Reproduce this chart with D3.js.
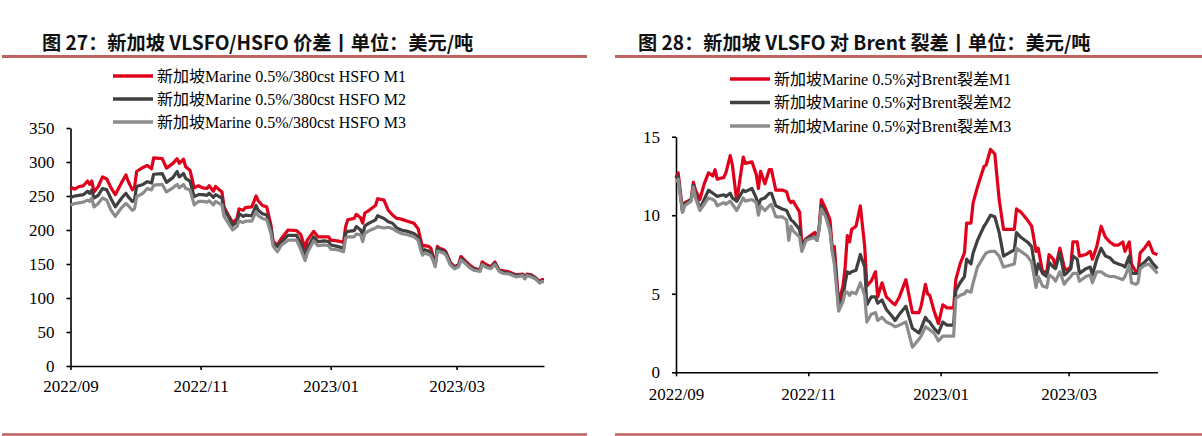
<!DOCTYPE html>
<html>
<head>
<meta charset="utf-8">
<script src="https://cdn.jsdelivr.net/npm/d3@7"></script>
<style>
  body { margin: 0; background: #fff; }
  svg { display: block; }
</style>
</head>
<body>
<div id="chart"></div>
<script>
// left panel: VLSFO/HSFO spread, USD/t
const spreadTitle = "图 27：新加坡 VLSFO/HSFO 价差丨单位：美元/吨";
const spreadNames = ["新加坡Marine 0.5%/380cst HSFO M1", "新加坡Marine 0.5%/380cst HSFO M2", "新加坡Marine 0.5%/380cst HSFO M3"];
const spreadTicks = [0, 50, 100, 150, 200, 250, 300, 350];
const spreadDates = [
  "2022/09/01","2022/09/02","2022/09/03","2022/09/05","2022/09/07","2022/09/09","2022/09/10","2022/09/11","2022/09/12","2022/09/14",
  "2022/09/16","2022/09/18","2022/09/20","2022/09/22","2022/09/25","2022/09/27","2022/09/28","2022/09/30","2022/10/01","2022/10/02",
  "2022/10/05","2022/10/07","2022/10/09","2022/10/10","2022/10/14","2022/10/16","2022/10/19","2022/10/21","2022/10/22","2022/10/24",
  "2022/10/25","2022/10/27","2022/10/29","2022/10/31","2022/11/02","2022/11/04","2022/11/05","2022/11/07","2022/11/08","2022/11/11",
  "2022/11/12","2022/11/14","2022/11/16","2022/11/18","2022/11/19","2022/11/21","2022/11/22","2022/11/25","2022/11/27","2022/11/28",
  "2022/11/30","2022/12/02","2022/12/04","2022/12/05","2022/12/07","2022/12/09","2022/12/12","2022/12/16","2022/12/18","2022/12/20",
  "2022/12/21","2022/12/24","2022/12/26","2022/12/29","2022/12/31","2023/01/01","2023/01/04","2023/01/07","2023/01/08","2023/01/09",
  "2023/01/12","2023/01/13","2023/01/15","2023/01/16","2023/01/17","2023/01/19","2023/01/22","2023/01/23","2023/01/26","2023/01/28",
  "2023/01/30","2023/02/01","2023/02/03","2023/02/06","2023/02/09","2023/02/11","2023/02/12","2023/02/13","2023/02/14","2023/02/16",
  "2023/02/17","2023/02/18","2023/02/19","2023/02/20","2023/02/21","2023/02/23","2023/02/24","2023/02/26","2023/02/28","2023/03/02",
  "2023/03/03","2023/03/05","2023/03/07","2023/03/09","2023/03/12","2023/03/13","2023/03/15","2023/03/17","2023/03/19","2023/03/21",
  "2023/03/23","2023/03/26","2023/03/29","2023/04/01","2023/04/02","2023/04/03","2023/04/05","2023/04/07","2023/04/09","2023/04/10","2023/04/11"
];
const spreadM1 = [
  259, 262, 260, 264, 265, 272, 267, 272, 256, 264,
  278, 275, 262, 252, 270, 281, 272, 259, 262, 286,
  292, 295, 290, 306, 305, 291, 298, 305, 298, 304,
  293, 288, 262, 265, 262, 261, 265, 257, 264, 256,
  234, 222, 211, 216, 231, 229, 233, 234, 250, 243,
  236, 234, 207, 183, 178, 188, 200, 199, 193, 173,
  185, 198, 190, 190, 190, 185, 184, 182, 205, 215,
  217, 223, 218, 210, 225, 229, 236, 246, 244, 229,
  222, 217, 216, 213, 210, 202, 188, 176, 177, 176,
  173, 161, 149, 176, 173, 171, 168, 153, 146, 149,
  161, 155, 149, 144, 141, 153, 149, 146, 153, 141,
  140, 138, 134, 135, 130, 135, 134, 130, 124, 127, 127
];
const spreadM2 = [
  248, 249, 250, 251, 252, 257, 254, 259, 247, 251,
  261, 259, 246, 234, 247, 254, 249, 242, 244, 264,
  267, 271, 269, 282, 283, 270, 277, 286, 278, 283,
  276, 272, 249, 252, 252, 251, 254, 248, 252, 247,
  229, 220, 207, 211, 224, 220, 222, 221, 236, 229,
  224, 222, 202, 180, 176, 183, 192, 192, 181, 161,
  173, 190, 183, 184, 183, 178, 176, 173, 195, 198,
  199, 205, 200, 193, 206, 210, 215, 221, 217, 212,
  210, 203, 200, 198, 195, 190, 181, 168, 171, 169,
  166, 158, 148, 173, 171, 169, 166, 151, 145, 148,
  158, 153, 146, 143, 140, 150, 146, 145, 151, 140,
  138, 136, 133, 134, 129, 134, 133, 129, 123, 125, 125
];
const spreadM3 = [
  236, 238, 239, 240, 241, 244, 242, 247, 234, 239,
  247, 244, 229, 220, 233, 239, 236, 229, 231, 249,
  254, 261, 259, 266, 267, 256, 262, 267, 262, 267,
  261, 259, 237, 242, 242, 241, 243, 237, 242, 237,
  220, 210, 200, 205, 213, 211, 213, 213, 227, 221,
  217, 215, 195, 176, 168, 178, 185, 185, 171, 155,
  166, 184, 177, 178, 177, 172, 171, 168, 188, 190,
  190, 194, 193, 183, 195, 199, 203, 205, 203, 204,
  202, 198, 195, 193, 190, 185, 173, 163, 166, 164,
  162, 155, 146, 169, 168, 166, 163, 149, 143, 146,
  156, 151, 145, 141, 139, 149, 145, 143, 149, 139,
  136, 135, 131, 133, 128, 133, 131, 128, 122, 124, 124
];

// right panel: VLSFO crack vs Brent, USD/t
const crackTitle = "图 28：新加坡 VLSFO 对 Brent 裂差丨单位：美元/吨";
const crackNames = ["新加坡Marine 0.5%对Brent裂差M1", "新加坡Marine 0.5%对Brent裂差M2", "新加坡Marine 0.5%对Brent裂差M3"];
const crackTicks = [0, 5, 10, 15];
const crackDates = [
  "2022/09/01","2022/09/02","2022/09/04","2022/09/05","2022/09/08","2022/09/09","2022/09/10","2022/09/12","2022/09/14","2022/09/16",
  "2022/09/18","2022/09/19","2022/09/20","2022/09/23","2022/09/24","2022/09/26","2022/09/27","2022/09/29","2022/10/02","2022/10/03",
  "2022/10/06","2022/10/08","2022/10/09","2022/10/10","2022/10/12","2022/10/14","2022/10/15","2022/10/17","2022/10/20","2022/10/22",
  "2022/10/23","2022/10/24","2022/10/25","2022/10/28","2022/10/29","2022/10/31","2022/11/02","2022/11/04","2022/11/05","2022/11/06",
  "2022/11/07","2022/11/09","2022/11/11","2022/11/12","2022/11/13","2022/11/15","2022/11/17","2022/11/18","2022/11/19","2022/11/20",
  "2022/11/21","2022/11/23","2022/11/25","2022/11/27","2022/11/28","2022/11/30","2022/12/02","2022/12/03","2022/12/05","2022/12/07",
  "2022/12/10","2022/12/11","2022/12/13","2022/12/16","2022/12/19","2022/12/22","2022/12/23","2022/12/25","2022/12/26","2022/12/27",
  "2022/12/29","2022/12/31","2023/01/02","2023/01/04","2023/01/07","2023/01/08","2023/01/10","2023/01/12","2023/01/13","2023/01/15",
  "2023/01/16","2023/01/18","2023/01/21","2023/01/22","2023/01/24","2023/01/26","2023/01/28","2023/01/30","2023/02/04","2023/02/05",
  "2023/02/07","2023/02/10","2023/02/12","2023/02/14","2023/02/15","2023/02/17","2023/02/19","2023/02/20","2023/02/22","2023/02/23",
  "2023/02/25","2023/02/27","2023/02/28","2023/03/02","2023/03/03","2023/03/05","2023/03/06","2023/03/09","2023/03/11","2023/03/12",
  "2023/03/14","2023/03/16","2023/03/18","2023/03/20","2023/03/22","2023/03/24","2023/03/26","2023/03/27","2023/03/29","2023/03/30",
  "2023/04/01","2023/04/02","2023/04/03","2023/04/05","2023/04/07","2023/04/09","2023/04/11"
];
const crackM1 = [
  12.4, 12.7, 10.3, 10.8, 11.0, 12.1, 11.6, 11.0, 12.0, 12.7,
  12.5, 12.9, 12.3, 12.4, 12.7, 13.8, 13.2, 10.9, 13.7, 13.3,
  13.4, 12.6, 11.7, 12.8, 12.0, 12.9, 12.9, 11.6, 11.6, 11.5,
  11.0, 10.8, 10.9, 10.2, 8.2, 8.5, 8.7, 8.9, 8.5, 9.2,
  11.0, 10.4, 9.7, 8.0, 8.0, 4.4, 5.5, 6.7, 8.7, 8.3,
  9.1, 9.3, 10.6, 8.0, 5.5, 5.8, 6.4, 4.8, 5.7, 4.8,
  4.4, 4.3, 4.8, 5.9, 3.8, 3.8, 4.2, 5.6, 5.0, 4.9,
  3.9, 3.1, 4.3, 4.1, 4.1, 5.9, 6.9, 7.6, 9.5, 9.5,
  10.8, 11.8, 13.1, 13.2, 14.2, 13.9, 11.0, 9.1, 9.1, 10.4,
  10.2, 9.7, 9.3, 7.7, 7.9, 6.4, 6.4, 7.5, 7.2, 6.7,
  7.9, 6.7, 6.5, 6.7, 8.3, 8.3, 7.4, 7.5, 7.7, 7.2,
  8.0, 9.3, 8.6, 8.3, 8.1, 8.1, 8.3, 7.7, 8.3, 6.9,
  6.4, 6.4, 7.6, 7.9, 8.3, 7.6, 7.5
];
const crackM2 = [
  12.3, 12.5, 10.2, 10.7, 11.0, 11.9, 11.3, 10.4, 11.0, 11.6,
  11.4, 11.3, 11.2, 11.3, 11.2, 11.4, 11.1, 10.9, 11.6, 11.5,
  11.7, 11.1, 10.6, 11.0, 11.1, 11.4, 11.4, 10.6, 10.4, 10.3,
  10.0, 9.7, 9.6, 9.1, 7.9, 8.5, 8.6, 8.6, 8.4, 9.2,
  10.6, 10.1, 9.1, 7.8, 7.5, 4.1, 4.8, 5.7, 6.4, 6.3,
  6.4, 6.5, 7.5, 6.7, 4.3, 4.8, 4.8, 4.4, 4.6, 4.0,
  3.5, 3.3, 3.7, 4.2, 2.8, 2.5, 2.8, 3.5, 3.3, 3.2,
  2.8, 2.5, 3.2, 3.0, 3.0, 5.2, 5.7, 6.1, 7.2, 6.9,
  7.6, 8.4, 9.3, 9.5, 10.0, 9.9, 8.9, 7.4, 7.8, 8.9,
  8.6, 8.3, 8.0, 6.2, 6.9, 6.3, 6.1, 7.0, 6.7, 6.6,
  7.6, 6.2, 6.3, 6.6, 7.4, 7.2, 6.3, 6.6, 6.7, 6.2,
  7.2, 7.9, 7.4, 7.3, 7.0, 6.9, 6.8, 6.7, 7.4, 6.3,
  6.3, 6.3, 6.8, 7.0, 7.3, 6.9, 6.6
];
const crackM3 = [
  12.1, 12.3, 10.2, 10.6, 10.9, 11.8, 11.1, 10.3, 10.7, 11.1,
  11.0, 10.9, 10.6, 10.8, 10.7, 10.9, 10.7, 10.3, 11.1, 10.9,
  11.0, 10.8, 10.0, 10.6, 10.3, 10.6, 10.7, 9.9, 9.9, 9.7,
  8.4, 9.3, 9.0, 8.6, 7.7, 8.4, 8.5, 8.6, 8.4, 9.1,
  10.4, 9.9, 9.0, 7.7, 6.9, 3.9, 4.5, 5.1, 5.1, 4.9,
  5.1, 5.0, 5.7, 4.9, 3.2, 3.7, 3.8, 3.3, 3.5, 3.2,
  3.0, 2.9, 3.0, 3.2, 1.6, 2.1, 2.3, 2.9, 2.8, 2.7,
  2.5, 2.0, 2.3, 2.3, 2.3, 4.7, 4.9, 5.0, 5.2, 5.1,
  5.7, 6.7, 7.4, 7.6, 7.7, 7.7, 7.4, 6.7, 6.9, 7.9,
  7.7, 7.4, 7.0, 5.4, 6.1, 5.5, 5.4, 6.2, 6.0, 5.8,
  6.4, 5.6, 5.8, 6.1, 6.3, 6.3, 5.8, 6.1, 6.2, 5.7,
  6.4, 6.4, 6.2, 6.1, 6.1, 6.0, 5.9, 6.1, 6.8, 5.7,
  5.6, 5.7, 6.6, 6.8, 6.9, 6.6, 6.3
];

const monthTicks = ["2022/09/01", "2022/11/01", "2023/01/01", "2023/03/01"];

const parse = d3.timeParse("%Y/%m/%d");
const colors = ["#e0001b", "#404040", "#8c8c8c"];
const ruleColor = "#c0625f";
const serif = "'Liberation Serif', 'Noto Sans CJK SC', serif";

const svg = d3.select("#chart").append("svg").attr("width", 1202).attr("height", 436);

function drawPanel(p) {
  const g = svg.append("g");

  g.append("text")
    .attr("x", p.titleX).attr("y", 50)
    .attr("font-family", "'Noto Sans CJK SC', sans-serif")
    .attr("font-weight", 700).attr("font-size", 19.2).attr("fill", "#111")
    .text(p.title);

  g.append("line").attr("x1", p.ruleX0).attr("x2", p.ruleX1).attr("y1", 56.5).attr("y2", 56.5)
    .attr("stroke", ruleColor).attr("stroke-width", 3);
  g.append("line").attr("x1", p.ruleX0).attr("x2", p.ruleX1).attr("y1", 434.5).attr("y2", 434.5)
    .attr("stroke", ruleColor).attr("stroke-width", 2.5);

  const dates = p.dates.map(parse);
  const x = d3.scaleTime().domain([dates[0], dates[dates.length - 1]]).range([p.x0, p.x1]);
  const y = d3.scaleLinear().domain([0, d3.max(p.yTicks)]).range([p.y0, p.y1]);

  const yAxis = g.append("g").attr("transform", `translate(${p.x0},0)`)
    .call(d3.axisLeft(y).tickValues(p.yTicks).tickSize(4).tickSizeOuter(0).tickPadding(12));
  const xAxis = g.append("g").attr("transform", `translate(0,${p.y0})`)
    .call(d3.axisBottom(x).tickValues(monthTicks.map(parse)).tickFormat(d3.timeFormat("%Y/%m"))
      .tickSize(4).tickSizeOuter(0).tickPadding(p.xPad));
  [yAxis, xAxis].forEach(a => {
    a.selectAll("path, line").attr("stroke", "#000").attr("stroke-width", 1.6);
    a.selectAll("text").attr("font-family", serif).attr("font-size", 17).attr("fill", "#000");
  });

  const line = d3.line().x((d, i) => x(dates[i])).y(d => y(d));
  p.series.forEach((s, i) => {
    g.append("path").datum(s)
      .attr("fill", "none").attr("stroke", colors[i]).attr("stroke-width", 3.2)
      .attr("stroke-linejoin", "round")
      .attr("d", line);
  });

  const legend = g.selectAll("g.legend").data(p.names).join("g")
    .attr("transform", (_, i) => `translate(${p.legX},${p.legY + i * p.legStep})`);
  legend.append("line").attr("x1", 0).attr("x2", 40)
    .attr("stroke", (_, i) => colors[i]).attr("stroke-width", 3.5);
  legend.append("text").attr("x", 44).attr("y", 5.5)
    .attr("font-family", serif).attr("font-size", 16).attr("fill", "#000")
    .text(d => d);
}

drawPanel({
  title: spreadTitle, titleX: 42, ruleX0: 2, ruleX1: 587,
  dates: spreadDates, series: [spreadM1, spreadM2, spreadM3], names: spreadNames,
  yTicks: spreadTicks, x0: 70.5, x1: 544, y0: 366, y1: 128, xPad: 10,
  legX: 113, legY: 76, legStep: 23
});

drawPanel({
  title: crackTitle, titleX: 638, ruleX0: 615, ruleX1: 1202,
  dates: crackDates, series: [crackM1, crackM2, crackM3], names: crackNames,
  yTicks: crackTicks, x0: 676, x1: 1157.5, y0: 372.3, y1: 136.7, xPad: 12,
  legX: 730, legY: 79, legStep: 23.5
});
</script>
</body>
</html>
